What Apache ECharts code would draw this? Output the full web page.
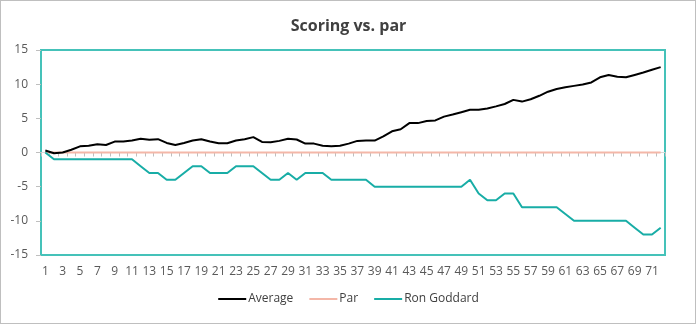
<!DOCTYPE html>
<html>
<head>
<meta charset="utf-8">
<script src="https://cdn.jsdelivr.net/npm/echarts@6/dist/echarts.min.js"></script>
<style>
html,body{margin:0;padding:0;background:#fff;}
#chart{position:absolute;left:0;top:0;width:697px;height:325px;}
#frame{position:absolute;left:0;top:0;width:696px;height:324px;border:1px solid #BFBFBF;box-sizing:border-box;pointer-events:none;}
</style>
</head>
<body>
<div id="chart"></div>
<div id="frame"></div>
<script>
const categories = ['1','2','3','4','5','6','7','8','9','10','11','12','13','14','15','16','17','18','19','20','21','22','23','24','25','26','27','28','29','30','31','32','33','34','35','36','37','38','39','40','41','42','43','44','45','46','47','48','49','50','51','52','53','54','55','56','57','58','59','60','61','62','63','64','65','66','67','68','69','70','71','72'];

const average = [0.3,-0.1,0.0,0.4,0.9,1.0,1.2,1.1,1.6,1.6,
  1.75,2.0,1.85,1.95,1.4,1.1,1.4,1.75,1.95,1.6,
  1.35,1.35,1.75,1.95,2.25,1.55,1.5,1.7,2.0,1.9,
  1.3,1.3,1.0,0.9,1.0,1.3,1.7,1.75,1.75,2.35,
  3.1,3.4,4.3,4.3,4.6,4.7,5.25,5.55,5.9,6.25,
  6.25,6.45,6.75,7.1,7.7,7.45,7.8,8.3,8.9,9.3,
  9.55,9.75,9.95,10.25,11.0,11.35,11.1,11.0,11.35,11.7,12.1,12.5];

const par = [0,0,0,0,0,0,0,0,0,0,0,0,0,0,0,0,0,0,0,0,0,0,0,0,0,0,0,0,0,0,0,0,0,0,0,0,
  0,0,0,0,0,0,0,0,0,0,0,0,0,0,0,0,0,0,0,0,0,0,0,0,0,0,0,0,0,0,0,0,0,0,0,0];

const ronGoddard = [0,-1,-1,-1,-1,-1,-1,-1,-1,-1,
  -1,-2,-3,-3,-4,-4,-3,-2,-2,-3,
  -3,-3,-2,-2,-2,-3,-4,-4,-3,-4,
  -3,-3,-3,-4,-4,-4,-4,-4,-5,-5,
  -5,-5,-5,-5,-5,-5,-5,-5,-5,-4,
  -6,-7,-7,-6,-6,-8,-8,-8,-8,-8,
  -9,-10,-10,-10,-10,-10,-10,-10,-11,-12,-12,-11];

const yTicks = {min: -15, max: 15, step: 5};

const chart = echarts.init(document.getElementById('chart'), null, {renderer: 'canvas'});
const font = '"Open Sans", "Noto Sans", sans-serif';

chart.setOption({
  animation: false,
  backgroundColor: '#ffffff',
  textStyle: {fontFamily: font},
  title: {
    text: 'Scoring vs. par',
    left: 'center',
    top: 13,
    textStyle: {fontFamily: font, fontSize: 16, fontWeight: 'bold', color: '#404040'}
  },
  legend: {
    top: 288,
    left: 'center',
    icon: 'rect',
    itemWidth: 28,
    itemHeight: 2,
    itemGap: 16,
    textStyle: {fontFamily: font, fontSize: 12, color: '#404040', padding: [0,0,0,-3]},
    data: ['Average', 'Par', 'Ron Goddard']
  },
  grid: {
    left: 41, right: 32, top: 50, bottom: 70,
    show: true,
    borderColor: '#45C2B9',
    borderWidth: 2,
    containLabel: false
  },
  xAxis: [
    {
      type: 'category',
      data: categories,
      position: 'bottom',
      boundaryGap: true,
      axisLine: {show: false, onZero: false},
      axisTick: {show: false},
      axisLabel: {interval: 1, margin: 11, fontSize: 12, color: '#595959', fontFamily: font},
      splitLine: {show: false}
    },
    {
      type: 'category',
      data: categories,
      position: 'top',
      boundaryGap: true,
      axisLine: {show: true, onZero: true, lineStyle: {color: '#D9D9D9', width: 1}},
      axisTick: {show: true, inside: true, interval: 0, length: 4, lineStyle: {color: '#BFBFBF'}},
      axisLabel: {show: false},
      splitLine: {show: false}
    }
  ],
  yAxis: {
    type: 'value',
    min: yTicks.min,
    max: yTicks.max,
    interval: yTicks.step,
    axisLine: {show: false},
    axisTick: {show: true, length: 5, lineStyle: {color: '#BFBFBF'}},
    axisLabel: {margin: 13, fontSize: 12, color: '#595959', fontFamily: font},
    splitLine: {show: false}
  },
  series: [
    {
      name: 'Average', type: 'line', data: average, xAxisIndex: 0,
      symbol: 'none', z: 4,
      lineStyle: {color: '#000000', width: 2},
      itemStyle: {color: '#000000'}
    },
    {
      name: 'Par', type: 'line', data: par, xAxisIndex: 0,
      symbol: 'none', z: 3,
      lineStyle: {color: '#F4B7A8', width: 2},
      itemStyle: {color: '#F4B7A8'}
    },
    {
      name: 'Ron Goddard', type: 'line', data: ronGoddard, xAxisIndex: 0,
      symbol: 'none', z: 3,
      lineStyle: {color: '#18ADA6', width: 2},
      itemStyle: {color: '#18ADA6'}
    }
  ]
});
</script>
</body>
</html>
